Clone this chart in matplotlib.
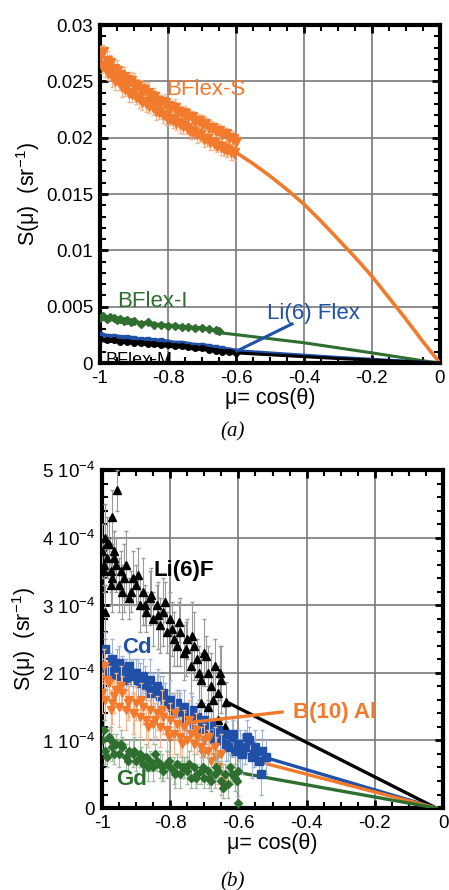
import matplotlib
matplotlib.use("Agg")
import matplotlib.pyplot as plt
from matplotlib.ticker import MultipleLocator, FixedLocator, FixedFormatter

plt.rcParams["font.family"] = ["Liberation Sans", "DejaVu Sans"]
plt.rcParams["mathtext.fontset"] = "custom"
plt.rcParams["mathtext.rm"] = "Liberation Sans"
plt.rcParams["axes.unicode_minus"] = False

ORANGE = "#f27a2c"
GREEN = "#2e6f30"
BLUE = "#2050a8"
BLACK = "#000000"

# ---------------- panel (a) data ----------------
# BFlex-S, two interleaved streaks of points
mu_s_hi = [-1.00, -0.99, -0.98, -0.97, -0.96, -0.95, -0.94, -0.93, -0.92, -0.91,
           -0.90, -0.89, -0.88, -0.87, -0.86, -0.85, -0.84, -0.83, -0.82, -0.81,
           -0.80, -0.79, -0.78, -0.77, -0.76, -0.75, -0.74, -0.73, -0.72, -0.71,
           -0.70, -0.69, -0.68, -0.67, -0.66, -0.65, -0.64, -0.63, -0.62, -0.61, -0.60]
s_s_hi = [0.0273, 0.0276, 0.0268, 0.0266, 0.0261, 0.0259, 0.0256, 0.0254, 0.0251, 0.0250,
          0.0247, 0.0246, 0.0243, 0.0242, 0.0240, 0.0237, 0.0236, 0.0233, 0.0232, 0.0231,
          0.0228, 0.0227, 0.0226, 0.0223, 0.0222, 0.0221, 0.0218, 0.0218, 0.0215, 0.0215,
          0.0212, 0.0212, 0.0209, 0.0209, 0.0206, 0.0206, 0.0203, 0.0203, 0.0200, 0.0199, 0.0196]
e_s_hi = [0.0008, 0.0006, 0.0009, 0.0007, 0.0008, 0.0010, 0.0007, 0.0009, 0.0006, 0.0008,
          0.0010, 0.0006, 0.0008, 0.0007, 0.0009, 0.0006, 0.0008, 0.0007, 0.0006, 0.0008,
          0.0007, 0.0006, 0.0008, 0.0007, 0.0006, 0.0007, 0.0008, 0.0006, 0.0007, 0.0006,
          0.0008, 0.0006, 0.0007, 0.0006, 0.0007, 0.0006, 0.0007, 0.0006, 0.0006, 0.0007, 0.0006]
mu_s_lo = [-0.995, -0.985, -0.975, -0.965, -0.955, -0.945, -0.935, -0.925, -0.915, -0.905,
           -0.895, -0.885, -0.875, -0.865, -0.855, -0.845, -0.835, -0.825, -0.815, -0.805,
           -0.795, -0.785, -0.775, -0.765, -0.755, -0.745, -0.735, -0.725, -0.715, -0.705,
           -0.695, -0.685, -0.675, -0.665, -0.655, -0.645, -0.635, -0.625, -0.615, -0.605]
s_s_lo = [0.0264, 0.0263, 0.0257, 0.0255, 0.0250, 0.0249, 0.0245, 0.0243, 0.0240, 0.0239,
          0.0236, 0.0235, 0.0232, 0.0231, 0.0228, 0.0227, 0.0224, 0.0223, 0.0220, 0.0219,
          0.0217, 0.0216, 0.0213, 0.0212, 0.0210, 0.0209, 0.0206, 0.0205, 0.0203, 0.0202,
          0.0199, 0.0199, 0.0196, 0.0195, 0.0193, 0.0192, 0.0190, 0.0189, 0.0187, 0.0186]
e_s_lo = [0.0007, 0.0009, 0.0006, 0.0010, 0.0008, 0.0007, 0.0009, 0.0006, 0.0008, 0.0007,
          0.0006, 0.0009, 0.0007, 0.0008, 0.0006, 0.0007, 0.0008, 0.0006, 0.0007, 0.0008,
          0.0006, 0.0007, 0.0006, 0.0008, 0.0007, 0.0006, 0.0007, 0.0006, 0.0008, 0.0006,
          0.0007, 0.0006, 0.0007, 0.0006, 0.0006, 0.0007, 0.0006, 0.0006, 0.0007, 0.0006]
fit_s_mu = [-0.60, -0.55, -0.50, -0.45, -0.40, -0.35, -0.30, -0.25, -0.20, -0.15, -0.10, -0.05, 0.0]
fit_s = [0.0187, 0.0177, 0.0166, 0.0154, 0.0141, 0.0126, 0.0110, 0.0094, 0.0077, 0.0058, 0.0039, 0.0019, 0.0]

mu_i = [-1.00, -0.99, -0.98, -0.97, -0.96, -0.95, -0.94, -0.93, -0.92, -0.91, -0.90, -0.88,
        -0.86, -0.84, -0.82, -0.80, -0.78, -0.76, -0.74, -0.72, -0.70, -0.68, -0.66, -0.65]
s_i = [0.0040, 0.0042, 0.0039, 0.0041, 0.0040, 0.0038, 0.0039, 0.0037, 0.0038, 0.0036, 0.0037, 0.0035,
       0.0036, 0.0034, 0.0034, 0.0033, 0.0033, 0.0032, 0.0032, 0.0031, 0.0031, 0.0030, 0.0029, 0.0028]
fit_i_mu = [-0.65, -0.40, -0.20, -0.05, 0.0]
fit_i = [0.0027, 0.0018, 0.0009, 0.0002, 0.0]

mu_li = [-1.00, -0.98, -0.96, -0.94, -0.92, -0.90, -0.88, -0.86, -0.84, -0.82,
         -0.80, -0.78, -0.76, -0.74, -0.72, -0.70, -0.68, -0.66, -0.64, -0.62, -0.60]
s_li = [0.0026, 0.0024, 0.0024, 0.0023, 0.0023, 0.0022, 0.0021, 0.0021, 0.0020, 0.0020,
        0.0019, 0.0018, 0.0018, 0.0017, 0.0016, 0.0016, 0.0015, 0.0014, 0.0013, 0.0012, 0.0011]
fit_li_mu = [-0.60, -0.30, 0.0]
fit_li = [0.0011, 0.0005, 0.0]

mu_m = [-1.00, -0.98, -0.96, -0.94, -0.92, -0.90, -0.88, -0.86, -0.84, -0.82,
        -0.80, -0.78, -0.76, -0.74, -0.72, -0.70, -0.68, -0.66, -0.64, -0.62, -0.60]
s_m = [0.0021, 0.0020, 0.0020, 0.0019, 0.0019, 0.0018, 0.0018, 0.0017, 0.0017, 0.0016,
       0.0016, 0.0015, 0.0015, 0.0014, 0.0013, 0.0013, 0.0012, 0.0011, 0.0010, 0.0010, 0.0009]
fit_m_mu = [-0.60, -0.30, 0.0]
fit_m = [0.0009, 0.0004, 0.0]

# ---------------- panel (b) data (units of 1e-4 sr^-1) ----------------
mu_lif = [-1.00, -0.995, -0.99, -0.99, -0.985, -0.98, -0.975, -0.97, -0.97, -0.965,
          -0.96, -0.955, -0.95, -0.945, -0.94, -0.93, -0.92, -0.91, -0.90, -0.89,
          -0.88, -0.87, -0.86, -0.85, -0.84, -0.83, -0.82, -0.81, -0.80, -0.79,
          -0.78, -0.77, -0.76, -0.75, -0.74, -0.73, -0.72, -0.71, -0.71, -0.70,
          -0.69, -0.69, -0.68, -0.67, -0.66, -0.66, -0.65, -0.64, -0.635,
          -0.995, -0.985, -0.975, -0.965, -0.935, -0.915, -0.895, -0.875, -0.855, -0.835,
          -0.815, -0.795, -0.775, -0.755, -0.735, -0.715, -0.695, -0.675, -0.655]
s_lif = [3.8, 3.6, 4.0, 2.9, 3.7, 3.9, 3.5, 4.3, 3.4, 3.8,
         3.6, 4.7, 3.3, 3.5, 3.2, 3.6, 3.1, 3.4, 3.3, 3.0,
         3.2, 2.9, 3.1, 2.8, 3.0, 2.7, 2.9, 2.6, 2.8, 2.5,
         2.4, 2.6, 2.3, 2.5, 2.1, 2.4, 2.2, 1.9, 1.55, 2.3,
         2.0, 1.5, 1.8, 2.1, 1.3, 1.7, 1.9, 1.2, 1.57,
         3.5, 3.9, 3.3, 3.7, 3.4, 3.2, 3.45, 3.0, 3.15, 2.85,
         3.05, 2.65, 2.75, 2.35, 2.55, 2.0, 2.25, 1.6, 2.0]
e_lif = [0.4, 0.3, 0.5, 0.4, 0.3, 0.4, 0.3, 0.4, 0.5, 0.3,
         0.4, 0.3, 0.4, 0.3, 0.4, 0.5, 0.3, 0.4, 0.3, 0.4,
         0.5, 0.3, 0.4, 0.4, 0.3, 0.4, 0.5, 0.3, 0.4, 0.4,
         0.3, 0.5, 0.4, 0.3, 0.4, 0.5, 0.3, 0.4, 0.3, 0.5,
         0.4, 0.3, 0.5, 0.4, 0.3, 0.4, 0.5, 0.3, 0.3,
         0.3, 0.4, 0.3, 0.4, 0.5, 0.3, 0.4, 0.3, 0.4, 0.5,
         0.3, 0.4, 0.3, 0.4, 0.5, 0.4, 0.3, 0.5, 0.4]
fit_lif_mu = [-0.635, -0.02]
fit_lif = [1.57, 0.0]

mu_cd = [-1.00, -0.99, -0.98, -0.97, -0.96, -0.95, -0.94, -0.93, -0.92, -0.91,
         -0.90, -0.89, -0.88, -0.87, -0.86, -0.85, -0.84, -0.83, -0.82, -0.81,
         -0.80, -0.79, -0.78, -0.77, -0.76, -0.75, -0.74, -0.73, -0.72, -0.71,
         -0.70, -0.69, -0.68, -0.67, -0.66, -0.65, -0.64, -0.63, -0.62, -0.61,
         -0.60, -0.59, -0.58, -0.57, -0.56, -0.55, -0.54, -0.53, -0.52,
         -0.995, -0.975, -0.955, -0.935, -0.915, -0.895, -0.875, -0.855, -0.835, -0.815,
         -0.795, -0.775, -0.755, -0.735, -0.715, -0.695, -0.675, -0.655, -0.635, -0.615,
         -0.595, -0.575, -0.555, -0.535]
s_cd = [2.1, 2.35, 2.0, 2.2, 1.95, 2.15, 2.05, 1.9, 2.1, 1.95,
        2.0, 1.85, 1.95, 1.8, 1.9, 1.75, 1.8, 1.65, 1.7, 1.55,
        1.6, 1.45, 1.55, 1.4, 1.5, 1.35, 1.4, 1.25, 1.35, 1.2,
        1.3, 1.1, 1.25, 1.05, 1.15, 1.0, 1.1, 0.9, 1.05, 0.85,
        0.95, 0.8, 0.9, 1.0, 0.75, 0.9, 0.7, 0.85, 0.75,
        1.95, 2.1, 2.05, 1.95, 2.0, 1.9, 1.85, 1.7, 1.75, 1.6,
        1.5, 1.45, 1.3, 1.45, 1.15, 1.2, 1.0, 1.05, 0.95, 1.1,
        0.85, 1.05, 0.8, 0.5]
e_cd = [0.2, 0.25, 0.2, 0.3, 0.2, 0.25, 0.2, 0.3, 0.2, 0.25,
        0.2, 0.3, 0.25, 0.2, 0.3, 0.25, 0.2, 0.3, 0.25, 0.2,
        0.3, 0.25, 0.2, 0.3, 0.25, 0.2, 0.3, 0.25, 0.2, 0.3,
        0.25, 0.2, 0.3, 0.25, 0.2, 0.3, 0.25, 0.2, 0.3, 0.25,
        0.2, 0.3, 0.25, 0.2, 0.3, 0.25, 0.2, 0.3, 0.25,
        0.25, 0.2, 0.3, 0.25, 0.2, 0.3, 0.25, 0.2, 0.3, 0.25,
        0.2, 0.3, 0.25, 0.2, 0.3, 0.25, 0.2, 0.3, 0.25, 0.2,
        0.3, 0.25, 0.2, 0.3]
fit_cd_mu = [-0.516, -0.02]
fit_cd = [0.74, 0.0]

mu_b10 = [-1.00, -0.995, -0.99, -0.98, -0.97, -0.96, -0.95, -0.94, -0.93, -0.92,
          -0.91, -0.90, -0.89, -0.88, -0.87, -0.86, -0.85, -0.84, -0.83, -0.82,
          -0.81, -0.80, -0.79, -0.78, -0.77, -0.76, -0.75, -0.74, -0.73, -0.72,
          -0.71, -0.70, -0.69, -0.68, -0.67, -0.66, -0.65, -0.645,
          -0.985, -0.975, -0.965, -0.945, -0.925, -0.905, -0.885, -0.865, -0.845, -0.825,
          -0.805, -0.785, -0.765, -0.745, -0.725, -0.705, -0.685, -0.665]
s_b10 = [1.7, 2.1, 1.6, 1.85, 1.55, 1.75, 1.5, 1.7, 1.45, 1.6,
         1.4, 1.55, 1.35, 1.5, 1.3, 1.45, 1.25, 1.4, 1.2, 1.35,
         1.15, 1.3, 1.1, 1.25, 1.05, 1.2, 1.0, 1.1, 0.95, 1.05,
         0.9, 1.0, 0.85, 0.7, 0.9, 0.6, 0.8, 0.4,
         1.9, 1.45, 1.65, 1.8, 1.55, 1.4, 1.6, 1.2, 1.3, 1.45,
         1.05, 1.4, 0.95, 1.3, 1.15, 0.8, 1.05, 0.75]
e_b10 = [0.3, 0.25, 0.3, 0.25, 0.3, 0.25, 0.3, 0.25, 0.3, 0.25,
         0.3, 0.25, 0.3, 0.25, 0.3, 0.25, 0.3, 0.25, 0.3, 0.25,
         0.3, 0.25, 0.3, 0.25, 0.3, 0.25, 0.3, 0.25, 0.3, 0.25,
         0.3, 0.25, 0.3, 0.25, 0.3, 0.25, 0.3, 0.25,
         0.25, 0.3, 0.25, 0.3, 0.25, 0.3, 0.25, 0.3, 0.25, 0.3,
         0.25, 0.3, 0.25, 0.3, 0.25, 0.3, 0.25, 0.3]
fit_b10_mu = [-0.537, -0.02]
fit_b10 = [0.68, 0.0]

mu_gd = [-1.00, -0.995, -0.99, -0.98, -0.97, -0.96, -0.95, -0.94, -0.93, -0.92,
         -0.91, -0.90, -0.89, -0.88, -0.87, -0.86, -0.85, -0.84, -0.83, -0.82,
         -0.81, -0.80, -0.79, -0.78, -0.77, -0.76, -0.75, -0.74, -0.73, -0.72,
         -0.71, -0.70, -0.69, -0.68, -0.67, -0.66, -0.65, -0.64, -0.63, -0.62,
         -0.61, -0.60, -0.60,
         -0.985, -0.975, -0.965, -0.945, -0.925, -0.905, -0.885, -0.865, -0.845, -0.825,
         -0.805, -0.785, -0.765, -0.745, -0.725, -0.705, -0.685, -0.665, -0.645, -0.625, -0.605]
s_gd = [1.0, 1.15, 0.85, 1.05, 0.9, 0.95, 0.8, 0.9, 0.75, 0.85,
        0.8, 0.7, 0.8, 0.65, 0.75, 0.7, 0.6, 0.7, 0.65, 0.55,
        0.65, 0.6, 0.55, 0.65, 0.5, 0.6, 0.55, 0.45, 0.6, 0.5,
        0.55, 0.45, 0.55, 0.4, 0.5, 0.55, 0.4, 0.5, 0.35, 0.5,
        0.45, 0.55, 0.08,
        0.75, 1.0, 0.8, 0.95, 0.7, 0.85, 0.75, 0.6, 0.8, 0.6,
        0.7, 0.5, 0.6, 0.65, 0.45, 0.6, 0.45, 0.6, 0.3, 0.6, 0.4]
e_gd = [0.2, 0.15, 0.2, 0.15, 0.2, 0.15, 0.2, 0.15, 0.2, 0.15,
        0.2, 0.15, 0.2, 0.15, 0.2, 0.15, 0.2, 0.15, 0.2, 0.15,
        0.2, 0.15, 0.2, 0.15, 0.2, 0.15, 0.2, 0.15, 0.2, 0.15,
        0.2, 0.15, 0.2, 0.15, 0.2, 0.15, 0.2, 0.15, 0.2, 0.15,
        0.2, 0.15, 0.1,
        0.15, 0.2, 0.15, 0.2, 0.15, 0.2, 0.15, 0.2, 0.15, 0.2,
        0.15, 0.2, 0.15, 0.2, 0.15, 0.2, 0.15, 0.2, 0.15, 0.2, 0.15]
fit_gd_mu = [-0.595, -0.02]
fit_gd = [0.52, 0.0]

xticks = [-1, -0.8, -0.6, -0.4, -0.2, 0]
xtick_labels = ["-1", "-0.8", "-0.6", "-0.4", "-0.2", "0"]
yticks_a = [0, 0.005, 0.01, 0.015, 0.02, 0.025, 0.03]
ytick_labels_a = ["0", "0.005", "0.01", "0.015", "0.02", "0.025", "0.03"]
yticks_b = [0, 1e-4, 2e-4, 3e-4, 4e-4, 5e-4]
ytick_labels_b = ["0", "1 10$^{-4}$", "2 10$^{-4}$", "3 10$^{-4}$", "4 10$^{-4}$", "5 10$^{-4}$"]

S = 1e-4


def scaled(vals):
    return [v * S for v in vals]


def style_axes(ax, ylim, yt, ytl, yminor):
    ax.set_xlim(-1, 0)
    ax.set_ylim(*ylim)
    ax.xaxis.set_major_locator(FixedLocator(xticks))
    ax.xaxis.set_major_formatter(FixedFormatter(xtick_labels))
    ax.xaxis.set_minor_locator(MultipleLocator(0.05))
    ax.yaxis.set_major_locator(FixedLocator(yt))
    ax.yaxis.set_major_formatter(FixedFormatter(ytl))
    ax.yaxis.set_minor_locator(MultipleLocator(yminor))
    ax.grid(True, which="major", color="#7a7a7a", linewidth=1.2, zorder=0)
    ax.set_axisbelow(True)
    ax.tick_params(which="both", direction="in", top=True, right=True, labelsize=13.5)
    ax.tick_params(which="major", length=6, width=2)
    ax.tick_params(which="minor", length=4, width=1.5)
    ax.tick_params(axis="y", pad=5)
    ax.tick_params(axis="x", pad=5)
    for sp in ax.spines.values():
        sp.set_linewidth(3)
    ax.set_xlabel("μ= cos(θ)", fontsize=15.5, labelpad=1)
    ax.set_ylabel("S(μ)  (sr$^{-1}$)", fontsize=15.5, labelpad=3)


fig = plt.figure(figsize=(4.49, 8.9), dpi=100)
ax1 = fig.add_axes([0.2227, 0.5921, 0.757, 0.3798])
ax2 = fig.add_axes([0.2272, 0.0921, 0.7595, 0.3798])

# panel (a)
ax1.plot(fit_s_mu, fit_s, color=ORANGE, lw=2.6, zorder=3)
ax1.plot(fit_i_mu, fit_i, color=GREEN, lw=2.2, zorder=3)
ax1.plot(fit_li_mu, fit_li, color=BLUE, lw=2.2, zorder=3)
ax1.plot(fit_m_mu, fit_m, color=BLACK, lw=2.2, zorder=3)
for mu, s, e in [(mu_s_hi, s_s_hi, e_s_hi), (mu_s_lo, s_s_lo, e_s_lo)]:
    ax1.errorbar(mu, s, yerr=e, fmt="v", ms=6.5, color=ORANGE, ecolor="#f6b58a",
                 elinewidth=0.8, capsize=1.5, zorder=4)
ax1.plot(mu_i, s_i, "D-", ms=4, lw=3, color=GREEN, zorder=4)
ax1.plot(mu_li, s_li, "s-", ms=3.5, lw=3, color=BLUE, zorder=4)
ax1.plot(mu_m, s_m, "o-", ms=4, lw=3.5, color=BLACK, zorder=5)
ax1.plot([-0.597, -0.435], [0.00107, 0.00347], color=BLUE, lw=2.2, zorder=5)
ax1.text(-0.805, 0.0243, "BFlex-S", color=ORANGE, fontsize=16, va="center", zorder=10)
ax1.text(-0.95, 0.0055, "BFlex-I", color=GREEN, fontsize=16, va="center", zorder=10)
ax1.text(-0.51, 0.0044, "Li(6) Flex", color=BLUE, fontsize=16, va="center", zorder=10)
ax1.text(-0.985, 0.0002, "BFlex-M", color=BLACK, fontsize=13, va="center", zorder=10)
style_axes(ax1, (0, 0.03), yticks_a, ytick_labels_a, 0.001)

# panel (b)
ax2.plot(fit_lif_mu, scaled(fit_lif), color=BLACK, lw=2.4, zorder=3)
ax2.plot(fit_cd_mu, scaled(fit_cd), color=BLUE, lw=2.4, zorder=3)
ax2.plot(fit_b10_mu, scaled(fit_b10), color=ORANGE, lw=2.4, zorder=3)
ax2.plot(fit_gd_mu, scaled(fit_gd), color=GREEN, lw=2.4, zorder=3)
ax2.errorbar(mu_lif, scaled(s_lif), yerr=scaled(e_lif), fmt="^", ms=5.5,
             color=BLACK, ecolor="#9a9a9a", elinewidth=0.8, capsize=1.5, zorder=4)
ax2.errorbar(mu_cd, scaled(s_cd), yerr=scaled(e_cd), fmt="s", ms=5.5,
             color=BLUE, ecolor="#9fb2da", elinewidth=0.8, capsize=1.5, zorder=4)
ax2.errorbar(mu_b10, scaled(s_b10), yerr=scaled(e_b10), fmt="v", ms=6,
             color=ORANGE, ecolor="#f6b58a", elinewidth=0.8, capsize=1.5, zorder=5)
ax2.errorbar(mu_gd, scaled(s_gd), yerr=scaled(e_gd), fmt="D", ms=4.5,
             color=GREEN, ecolor="#9dbb9d", elinewidth=0.8, capsize=1.5, zorder=6)
ax2.plot([-0.751, -0.472], [1.26 * S, 1.42 * S], color=ORANGE, lw=2.4, zorder=7)
ax2.text(-0.85, 3.52 * S, "Li(6)F", color=BLACK, fontsize=16, fontweight="bold", va="center", zorder=10)
ax2.text(-0.94, 2.38 * S, "Cd", color=BLUE, fontsize=16, fontweight="bold", va="center", zorder=10)
ax2.text(-0.44, 1.42 * S, "B(10) Al", color=ORANGE, fontsize=16, fontweight="bold", va="center", zorder=10)
ax2.text(-0.96, 0.42 * S, "Gd", color=GREEN, fontsize=16, fontweight="bold", va="center", zorder=10)
style_axes(ax2, (0, 5e-4), yticks_b, ytick_labels_b, 0.2e-4)

fig.text(233 / 449, 1 - 432 / 890, "(a)", fontsize=15, family="Liberation Serif",
         style="italic", ha="center", va="center")
fig.text(233 / 449, 1 - 882 / 890, "(b)", fontsize=15, family="Liberation Serif",
         style="italic", ha="center", va="center")

fig.savefig("out.png", dpi=100)
